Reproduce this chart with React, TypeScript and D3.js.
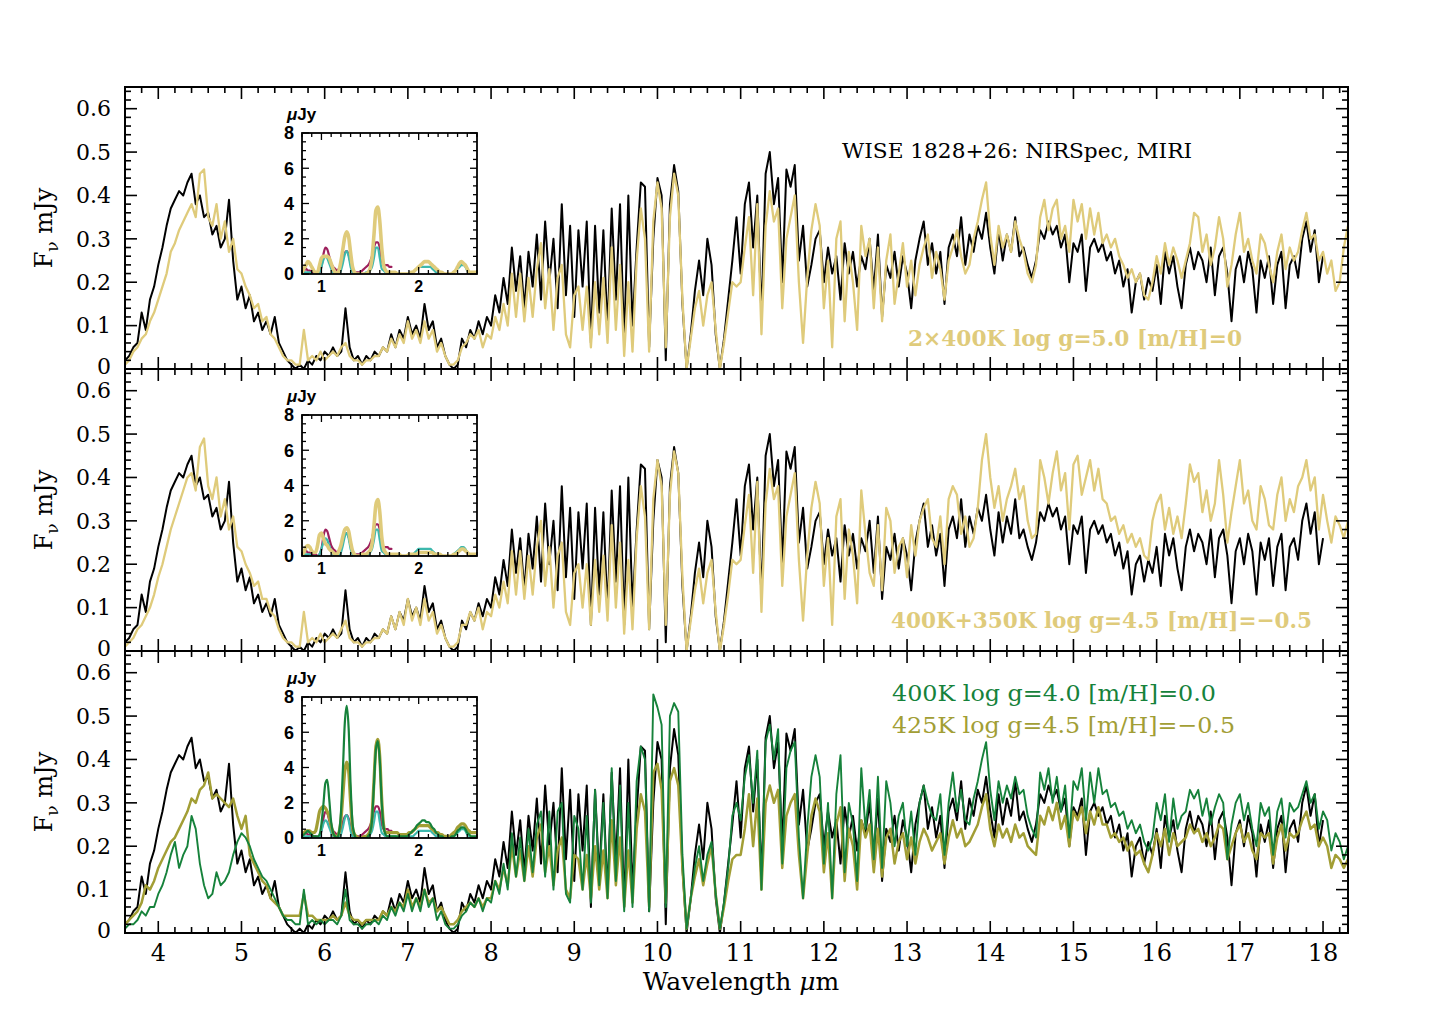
import React from "react";
import * as d3 from "d3";

// page size
const W = 1455;
const H = 1028;

// ---- main spectra: sampled every 0.05 um from 3.60 um, units of 0.01 mJy ----
const LAM0 = 3.6;
const DLAM = 0.05;

// WISE 1828+26 NIRSpec + MIRI (black)
const observed = [
  2, 3, 5, 6, 13, 9, 16, 19,
  24, 28, 33, 37, 39, 41, 40, 43, 45, 38, 40, 35, 36, 31, 33, 28, 30, 39, 25, 16,
  19, 14, 17, 11, 13, 9, 11, 8, 12, 6, 4, 2, 1, 0, 1, 0, 2, 1, 3, 2,
  4, 3, 5, 3, 4, 14, 5, 2, 3, 1, 3, 2, 4, 3, 5, 4, 8, 5, 9, 7,
  12, 8, 10, 7, 15, 9, 11, 5, 7, 3, 1, 0, 1, 7, 5, 9, 7, 11, 8, 12,
  10, 17, 13, 21, 15, 28, 18, 26, 14, 27, 19, 31, 16, 34, 20, 30, 14, 38, 17, 33,
  12, 32, 19, 34, 6, 33, 13, 32, 9, 37, 16, 38, 6, 40, 10, 28, 43, 42, 5, 30,
  44, 40, 2, 38, 47, 41, 15, 0, 8, 18, 25, 17, 30, 24, 8, 0, 7, 16, 25, 35,
  22, 38, 43, 28, 40, 12, 45, 50, 38, 44, 20, 46, 42, 47, 25, 33, 19, 24, 30, 32,
  20, 28, 22, 26, 16, 29, 22, 27, 19, 26, 23, 30, 18, 31, 12, 24, 21, 27, 19, 26,
  22, 14, 25, 30, 34, 24, 29, 22, 27, 15, 28, 31, 26, 35, 24, 31, 27, 33, 30, 36,
  28, 22, 32, 25, 31, 27, 35, 26, 28, 24, 21, 25, 32, 30, 34, 31, 33, 28, 31, 20,
  29, 27, 31, 18, 28, 30, 27, 29, 25, 27, 22, 25, 19, 23, 13, 20, 22, 16, 21, 18,
  24, 15, 27, 22, 26, 19, 14, 24, 28, 23, 27, 25, 20, 28, 17, 26, 28, 22, 11, 23,
  26, 20, 27, 23, 13, 25, 21, 26, 15, 24, 27, 14, 24, 26, 21, 30, 34, 27, 32, 20,
  26, null, null, null, null, null, null,
];

// 2x400K log g=5.0 [m/H]=0
const model400x2 = [
  1, 2, 4, 5, 7, 8, 11, 13,
  16, 19, 22, 27, 29, 32, 34, 36, 38, 35, 45, 46, 35, 33, 38, 30, 34, 27, 30, 23,
  22, 19, 17, 14, 15, 11, 12, 8, 7, 5, 3, 2, 2, 1, 1, 9, 2, 3, 2, 4,
  2, 3, 4, 3, 5, 6, 3, 2, 2, 1, 2, 2, 3, 3, 5, 4, 7, 5, 8, 6,
  11, 7, 9, 6, 11, 7, 9, 4, 6, 3, 1, 1, 2, 5, 6, 8, 7, 9, 5, 8,
  7, 12, 9, 15, 10, 22, 12, 22, 11, 21, 12, 23, 29, 14, 23, 9, 21, 24, 8, 5,
  17, 19, 9, 19, 5, 20, 8, 21, 6, 28, 9, 24, 3, 20, 4, 25, 37, 30, 4, 34,
  43, 37, 5, 35, 45, 40, 16, 0, 7, 14, 18, 10, 17, 20, 9, 0, 6, 13, 20, 19,
  20, 28, 35, 17, 38, 8, 33, 41, 34, 37, 14, 30, 35, 40, 20, 6, 21, 32, 38, 33,
  14, 25, 5, 30, 34, 11, 27, 20, 9, 33, 26, 30, 14, 28, 11, 25, 31, 15, 22, 29,
  19, 25, 17, 24, 28, 31, 21, 27, 23, 16, 25, 28, 32, 26, 22, 24, 30, 34, 39, 43,
  31, 24, 33, 28, 31, 27, 34, 30, 27, 22, 20, 24, 35, 39, 32, 37, 39, 30, 33, 27,
  39, 34, 38, 30, 37, 31, 36, 29, 31, 28, 30, 26, 24, 21, 23, 20, 22, 17, 16, 20,
  26, 22, 29, 24, 28, 25, 21, 25, 29, 36, 35, 27, 31, 24, 28, 35, 30, 19, 24, 31,
  36, 27, 30, 25, 22, 31, 29, 24, 20, 27, 31, 23, 28, 25, 27, 32, 36, 30, 31, 25,
  27, 22, 25, 18, 20, 28, 33,
];

// 400K+350K log g=4.5 [m/H]=-0.5
const model400p350 = [
  1, 2, 3, 5, 6, 8, 10, 13,
  17, 20, 24, 28, 31, 34, 37, 40, 41, 37, 47, 49, 38, 35, 40, 31, 35, 28, 31, 24,
  23, 20, 18, 15, 16, 12, 12, 9, 8, 5, 3, 2, 2, 1, 1, 9, 2, 3, 2, 4,
  2, 3, 4, 3, 5, 7, 3, 2, 2, 1, 2, 2, 3, 3, 5, 4, 8, 5, 9, 6,
  12, 7, 10, 6, 12, 7, 9, 4, 6, 3, 1, 1, 2, 6, 6, 9, 7, 10, 5, 9,
  8, 13, 10, 16, 11, 23, 13, 23, 12, 22, 13, 24, 30, 15, 24, 10, 22, 25, 9, 6,
  18, 20, 10, 20, 6, 21, 9, 22, 7, 29, 10, 25, 4, 21, 5, 26, 38, 31, 5, 35,
  44, 38, 6, 36, 46, 41, 17, 0, 7, 14, 19, 11, 18, 21, 9, 0, 6, 13, 21, 20,
  21, 29, 36, 18, 39, 9, 34, 42, 35, 38, 15, 31, 36, 41, 21, 7, 22, 33, 39, 34,
  15, 26, 6, 31, 35, 12, 28, 22, 11, 37, 27, 18, 15, 29, 14, 33, 30, 18, 24, 26,
  17, 29, 22, 30, 33, 35, 26, 24, 31, 20, 35, 38, 36, 27, 31, 24, 26, 33, 44, 50,
  40, 33, 38, 30, 35, 38, 42, 35, 38, 30, 26, 27, 44, 40, 34, 41, 46, 37, 41, 28,
  43, 45, 36, 40, 44, 37, 42, 35, 34, 30, 31, 27, 29, 25, 27, 24, 26, 22, 21, 30,
  34, 36, 28, 33, 27, 31, 26, 34, 43, 39, 41, 32, 37, 30, 34, 44, 36, 25, 32, 38,
  44, 34, 37, 30, 28, 38, 35, 29, 28, 36, 40, 30, 35, 32, 38, 40, 44, 37, 40, 28,
  36, 30, 25, 31, 29, 26, 30,
];

// 400K log g=4.0 [m/H]=0.0
const model400g40 = [
  1, 2, 2, 3, 5, 4, 6, 6,
  9, 11, 14, 18, 21, 15, 18, 20, 27, 24, 16, 11, 8, 9, 14, 11, 12, 14, 18, 21,
  23, 22, 20, 17, 15, 13, 12, 10, 8, 6, 4, 3, 3, 2, 2, 10, 2, 3, 2, 3,
  2, 3, 3, 2, 4, 10, 3, 2, 2, 1, 2, 2, 3, 2, 4, 3, 6, 4, 7, 5,
  9, 5, 8, 5, 10, 6, 8, 3, 5, 2, 1, 1, 2, 4, 5, 7, 6, 8, 5, 8,
  7, 12, 9, 16, 10, 23, 13, 22, 12, 24, 14, 25, 28, 13, 28, 10, 28, 30, 9, 7,
  27, 24, 10, 27, 7, 33, 11, 30, 8, 38, 12, 34, 5, 30, 6, 35, 43, 40, 5, 55,
  52, 48, 6, 50, 53, 51, 18, 1, 8, 15, 20, 12, 18, 21, 9, 1, 7, 15, 27, 30,
  26, 36, 41, 30, 42, 10, 44, 48, 40, 47, 16, 38, 42, 44, 22, 8, 24, 36, 41, 36,
  16, 30, 8, 32, 41, 14, 30, 25, 12, 38, 24, 33, 17, 36, 15, 35, 30, 20, 27, 30,
  20, 28, 18, 30, 34, 30, 27, 26, 32, 18, 30, 37, 28, 33, 26, 25, 31, 35, 40, 44,
  33, 26, 35, 30, 34, 31, 36, 32, 33, 27, 24, 22, 37, 33, 38, 30, 36, 28, 34, 22,
  35, 33, 38, 26, 37, 30, 38, 32, 33, 29, 30, 27, 28, 24, 26, 23, 25, 21, 19, 22,
  30, 26, 32, 21, 31, 24, 27, 28, 33, 31, 33, 27, 31, 25, 29, 32, 30, 17, 25, 30,
  32, 26, 30, 24, 20, 30, 27, 29, 18, 28, 31, 22, 30, 28, 29, 32, 35, 30, 32, 24,
  28, 26, 19, 23, 21, 17, 20,
];

// 425K log g=4.5 [m/H]=-0.5
const model425g45 = [
  2, 3, 4, 5, 7, 11, 10, 12,
  15, 17, 19, 21, 22, 24, 26, 28, 31, 30, 33, 34, 37, 31, 32, 31, 30, 29, 31, 27,
  24, 27, 18, 16, 14, 12, 11, 8, 7, 6, 4, 4, 4, 4, 4, 9, 4, 4, 3, 3,
  3, 3, 4, 3, 4, 7, 4, 3, 3, 2, 3, 3, 3, 3, 5, 4, 6, 5, 7, 6,
  10, 6, 8, 6, 10, 7, 8, 5, 6, 4, 2, 2, 3, 5, 6, 7, 6, 8, 6, 8,
  8, 12, 10, 15, 11, 20, 13, 19, 12, 20, 13, 22, 25, 14, 20, 11, 19, 22, 10, 8,
  18, 17, 10, 18, 8, 20, 10, 19, 8, 26, 11, 22, 6, 19, 7, 24, 32, 28, 6, 37,
  39, 33, 7, 35, 38, 34, 15, 1, 8, 13, 17, 11, 16, 20, 9, 1, 6, 12, 17, 18,
  18, 24, 32, 20, 31, 10, 30, 34, 30, 33, 15, 27, 30, 32, 18, 8, 18, 27, 31, 28,
  14, 23, 8, 25, 29, 12, 24, 20, 10, 26, 22, 25, 14, 24, 13, 22, 24, 16, 21, 23,
  17, 22, 16, 21, 24, 22, 19, 21, 23, 16, 22, 26, 22, 24, 20, 21, 23, 25, 29, 32,
  24, 20, 25, 22, 24, 21, 25, 22, 23, 20, 19, 18, 27, 25, 29, 26, 30, 24, 27, 20,
  28, 26, 29, 23, 28, 25, 29, 25, 25, 22, 23, 21, 22, 19, 21, 18, 19, 16, 14, 18,
  23, 20, 24, 18, 23, 20, 21, 22, 25, 23, 24, 21, 23, 20, 22, 25, 24, 17, 20, 23,
  25, 21, 23, 19, 17, 23, 22, 23, 16, 22, 25, 19, 23, 22, 23, 26, 28, 24, 25, 20,
  22, 20, 15, 18, 17, 15, 17,
];

// ---- inset spectra: sampled every 0.02 um from 0.80 um, units of 0.1 uJy ----
const ILAM0 = 0.8;
const DILAM = 0.02;

const insetObsA = [
  2, 2, 3, 2, 2, 1, 1, 1, 0, 1,
  4, 11, 15, 14, 10, 6, 4, 3, 2, 3,
  5, 9, 12, 13, 11, 6, 2, 1, 1, 1,
  1, 2, 3, 4, 5, 7, 10, 15, 18, 18,
  15, 8, 5, 5, 5, 4, 4, null, null, null,
  null, null, null, null, null, null, null, null, null, null,
  null, null, null, null, null, null, null, null, null, null,
  null, null, null, null, null, null, null, null, null, null,
  null, null, null, null, null, null, null, null, null, null,
  null,
];

const insetObsB = [
  0, 1, 1, 1, 1, 0, 0, 0, 0, 1,
  4, 8, 10, 9, 6, 3, 1, 0, 0, 0,
  2, 6, 11, 13, 10, 4, 1, 0, 0, 0,
  0, 0, 0, 1, 1, 2, 4, 9, 15, 15,
  9, 3, 2, 1, 1, 1, 1, 1, 1, 0,
  0, 0, 0, 0, 0, 0, 1, 1, 2, 3,
  4, 4, 4, 4, 4, 4, 4, 3, 2, 1,
  1, 0, 0, 0, 0, 0, 0, 0, 1, 2,
  3, 4, 5, 5, 4, 2, 1, 0, 0, 0,
  0,
];

const inset400x2 = [
  1, 3, 5, 7, 6, 4, 2, 1, 1, 5,
  9, 10, 10, 10, 9, 6, 3, 1, 0, 2,
  7, 14, 21, 24, 21, 12, 4, 1, 0, 0,
  0, 0, 0, 0, 1, 3, 9, 22, 36, 38,
  30, 15, 5, 2, 1, 1, 1, 1, 1, 0,
  0, 0, 0, 0, 0, 0, 1, 1, 2, 3,
  4, 5, 6, 7, 7, 7, 6, 5, 4, 3,
  2, 1, 1, 0, 0, 0, 0, 0, 1, 2,
  4, 6, 7, 6, 5, 3, 1, 1, 1, 1,
  1,
];

const inset400p350 = [
  1, 2, 5, 6, 5, 3, 2, 2, 6, 12,
  13, 10, 7, 6, 4, 3, 2, 1, 1, 3,
  6, 11, 15, 16, 14, 8, 3, 1, 0, 0,
  0, 1, 1, 1, 2, 3, 7, 17, 29, 32,
  25, 11, 4, 2, 1, 1, 1, 1, 1, 1,
  1, 0, 0, 0, 0, 1, 1, 1, 1, 1,
  2, 2, 2, 2, 2, 2, 2, 2, 1, 1,
  1, 1, 0, 0, 0, 0, 0, 0, 1, 1,
  2, 3, 4, 4, 3, 2, 1, 1, 1, 1,
  1,
];

const inset400g40 = [
  1, 2, 3, 4, 3, 2, 1, 1, 1, 2,
  8, 19, 31, 33, 22, 9, 3, 1, 0, 3,
  14, 38, 65, 75, 62, 30, 8, 2, 0, 0,
  0, 0, 0, 0, 1, 3, 10, 30, 50, 55,
  44, 20, 6, 2, 1, 1, 1, 1, 1, 1,
  1, 1, 1, 1, 1, 2, 3, 4, 5, 7,
  8, 9, 10, 10, 9, 9, 8, 6, 5, 3,
  2, 1, 1, 0, 0, 0, 0, 1, 1, 2,
  4, 5, 6, 6, 5, 3, 2, 1, 1, 1,
  1,
];

const inset425g45 = [
  2, 3, 4, 4, 4, 3, 3, 4, 9, 15,
  17, 18, 17, 15, 12, 7, 3, 1, 1, 3,
  10, 24, 38, 43, 38, 20, 6, 2, 1, 0,
  0, 0, 1, 1, 2, 4, 12, 32, 52, 56,
  46, 22, 7, 3, 3, 3, 3, 3, 3, 3,
  2, 2, 2, 2, 2, 3, 3, 4, 5, 6,
  7, 7, 7, 7, 7, 7, 6, 5, 4, 3,
  3, 2, 2, 1, 1, 1, 1, 2, 3, 4,
  6, 7, 8, 8, 7, 5, 4, 3, 3, 3,
  3,
];

// ---- ticks and labels ----
const xTickValues = [4, 5, 6, 7, 8, 9, 10, 11, 12, 13, 14, 15, 16, 17, 18];
const yTickValues = [0, 0.1, 0.2, 0.3, 0.4, 0.5, 0.6];
const yTickLabels = ["0", "0.1", "0.2", "0.3", "0.4", "0.5", "0.6"];
const insetXTickValues = [1, 2];
const insetYTickValues = [0, 2, 4, 6, 8];

// ---- styling ----
const SERIF = "'DejaVu Serif', 'Liberation Serif', serif";
const SANS = "'Liberation Sans', Arial, sans-serif";
const TAN = "#dfcb7b";
const PURPLE = "#9d1f5c";
const CYAN = "#3db8ad";
const GREEN = "#16823b";
const OLIVE = "#a29e35";

const LEFT = 125;
const RIGHT = 1348;
const PANEL_H = 282;

const x = d3.scaleLinear().domain([3.6, 18.3]).range([LEFT, RIGHT]);
const xi = d3.scaleLinear().domain([0.8, 2.6]).range([302, 477]);

type Curve = { data: (number | null)[]; color: string; width: number };
type Label = { text: string; x: number; y: number; color: string; len: number; bold?: boolean; size?: number };

const panels: { top: number; models: Curve[]; inset: Curve[]; labels: Label[] }[] = [
  {
    top: 87,
    models: [{ data: model400x2, color: TAN, width: 2.3 }],
    inset: [{ data: inset400x2, color: TAN, width: 3.6 }],
    labels: [
      { text: "WISE 1828+26: NIRSpec, MIRI", x: 842, y: 158, color: "#000", len: 350, size: 21 },
      { text: "2×400K log g=5.0 [m/H]=0", x: 908, y: 346, color: TAN, len: 334, bold: true },
    ],
  },
  {
    top: 369,
    models: [{ data: model400p350, color: TAN, width: 2.3 }],
    inset: [{ data: inset400p350, color: TAN, width: 3.6 }],
    labels: [
      { text: "400K+350K log g=4.5 [m/H]=\u22120.5", x: 891, y: 628, color: TAN, len: 421, bold: true },
    ],
  },
  {
    top: 651,
    models: [
      { data: model425g45, color: OLIVE, width: 2.5 },
      { data: model400g40, color: GREEN, width: 1.9 },
    ],
    inset: [
      { data: inset425g45, color: OLIVE, width: 3.2 },
      { data: inset400g40, color: GREEN, width: 2.2 },
    ],
    labels: [
      { text: "400K log g=4.0 [m/H]=0.0", x: 892, y: 701, color: GREEN, len: 324 },
      { text: "425K log g=4.5 [m/H]=\u22120.5", x: 892, y: 733, color: OLIVE, len: 343 },
    ],
  },
];

const minorX = d3.range(18, 92).map((k) => ({ v: k / 5, major: k % 5 === 0 }));
const minorY = d3.range(0, 33).map((k) => ({ v: k * 0.02, major: k % 5 === 0 }));
const minorXi = d3.range(8, 27).map((k) => ({ v: k / 10, major: k % 10 === 0 }));
const minorYi = d3.range(0, 17).map((k) => ({ v: k * 0.5, major: k % 4 === 0 }));

function Panel({ top, models, inset, labels, index }: any) {
  const bottom = top + PANEL_H;
  const y = d3.scaleLinear().domain([0, 0.65]).range([bottom, top]);
  const iTop = top + 46;
  const iBottom = top + 187;
  const yi = d3.scaleLinear().domain([0, 8]).range([iBottom, iTop]);

  const mainLine = d3
    .line<number | null>()
    .defined((d) => d != null)
    .x((_, i) => x(LAM0 + i * DLAM))
    .y((d) => y((d as number) / 100));

  const insetLine = d3
    .line<number | null>()
    .defined((d) => d != null)
    .x((_, i) => xi(ILAM0 + i * DILAM))
    .y((d) => yi((d as number) / 10))
    .curve(d3.curveMonotoneX);

  const insetCurves: Curve[] = [
    { data: insetObsA, color: PURPLE, width: 2.2 },
    { data: insetObsB, color: CYAN, width: 2.2 },
    ...inset,
  ];

  const clipId = `clip-main-${index}`;
  const iclipId = `clip-inset-${index}`;

  return (
    <g>
      <defs>
        <clipPath id={clipId}>
          <rect x={LEFT} y={top} width={RIGHT - LEFT} height={PANEL_H} />
        </clipPath>
        <clipPath id={iclipId}>
          <rect x={302} y={iTop} width={175} height={iBottom - iTop} />
        </clipPath>
      </defs>

      {/* spectra */}
      <g clipPath={`url(#${clipId})`} fill="none" strokeLinejoin="round">
        <path d={mainLine(observed) || ""} stroke="#000" strokeWidth={2} />
        {models.map((m: Curve, k: number) => (
          <path key={k} d={mainLine(m.data) || ""} stroke={m.color} strokeWidth={m.width} />
        ))}
      </g>

      {/* main ticks */}
      {minorX.map((t, k) => {
        const len = t.major ? 12 : 6;
        return (
          <g key={`x${k}`} stroke="#000" strokeWidth={1.6}>
            <line x1={x(t.v)} x2={x(t.v)} y1={bottom} y2={bottom - len} />
            <line x1={x(t.v)} x2={x(t.v)} y1={top} y2={top + len} />
          </g>
        );
      })}
      {minorY.map((t, k) => {
        const len = t.major ? 12 : 6;
        return (
          <g key={`y${k}`} stroke="#000" strokeWidth={1.6}>
            <line x1={LEFT} x2={LEFT + len} y1={y(t.v)} y2={y(t.v)} />
            <line x1={RIGHT} x2={RIGHT - len} y1={y(t.v)} y2={y(t.v)} />
          </g>
        );
      })}
      <rect x={LEFT} y={top} width={RIGHT - LEFT} height={PANEL_H} fill="none" stroke="#000" strokeWidth={2} />

      {yTickValues.map((v, k) => (
        <text key={`yl${k}`} x={111} y={y(v) - (v === 0 ? 3 : 0)} dy="0.35em" textAnchor="end" fontSize={22}>
          {yTickLabels[k]}
        </text>
      ))}

      <text transform={`translate(52, ${top + PANEL_H / 2}) rotate(-90)`} textAnchor="middle" fontSize={24}>
        F<tspan fontSize={17} dy={6}>ν</tspan>
        <tspan dy={-6}> mJy</tspan>
      </text>

      {/* labels */}
      {labels.map((l: Label, k: number) => (
        <text
          key={`lab${k}`}
          x={l.x}
          y={l.y}
          fill={l.color}
          fontSize={l.size || 23}
          fontWeight={l.bold ? "bold" : "normal"}
          textLength={l.len}
          lengthAdjust="spacingAndGlyphs"
        >
          {l.text}
        </text>
      ))}

      {/* inset */}
      <rect x={302} y={iTop} width={175} height={iBottom - iTop} fill="#fff" />
      <g clipPath={`url(#${iclipId})`} fill="none" strokeLinejoin="round" strokeLinecap="round">
        {insetCurves.map((c, k) => (
          <path key={k} d={insetLine(c.data) || ""} stroke={c.color} strokeWidth={c.width} />
        ))}
      </g>
      {minorXi.map((t, k) => {
        const len = t.major ? 7 : 4;
        return (
          <g key={`xi${k}`} stroke="#000" strokeWidth={1.3}>
            <line x1={xi(t.v)} x2={xi(t.v)} y1={iBottom} y2={iBottom - len} />
            <line x1={xi(t.v)} x2={xi(t.v)} y1={iTop} y2={iTop + len} />
          </g>
        );
      })}
      {minorYi.map((t, k) => {
        const len = t.major ? 7 : 4;
        return (
          <g key={`yi${k}`} stroke="#000" strokeWidth={1.3}>
            <line x1={302} x2={302 + len} y1={yi(t.v)} y2={yi(t.v)} />
            <line x1={477} x2={477 - len} y1={yi(t.v)} y2={yi(t.v)} />
          </g>
        );
      })}
      <rect x={302} y={iTop} width={175} height={iBottom - iTop} fill="none" stroke="#000" strokeWidth={1.8} />
      {insetYTickValues.map((v) => (
        <text key={`iyl${v}`} x={294} y={yi(v)} dy="0.36em" textAnchor="end" fontSize={18} fontWeight="bold" fontFamily={SANS}>
          {v}
        </text>
      ))}
      {insetXTickValues.map((v) => (
        <text key={`ixl${v}`} x={xi(v)} y={iBottom + 18} textAnchor="middle" fontSize={16} fontWeight="bold" fontFamily={SANS}>
          {v}
        </text>
      ))}
      <text x={287} y={iTop - 13} fontSize={17} fontWeight="bold" fontFamily={SANS}>
        <tspan fontStyle="italic">μ</tspan>Jy
      </text>
    </g>
  );
}

export default function App() {
  return (
    <svg
      width={W}
      height={H}
      style={{ position: "absolute", left: 0, top: 0 }}
      fontFamily={SERIF}
    >
      <rect width={W} height={H} fill="#fff" />
      {panels.map((p, i) => (
        <Panel key={i} index={i} {...p} />
      ))}
      {xTickValues.map((t) => (
        <text key={t} x={x(t)} y={961} textAnchor="middle" fontSize={24}>
          {t}
        </text>
      ))}
      <text x={741} y={990} textAnchor="middle" fontSize={25}>
        Wavelength <tspan fontStyle="italic">μ</tspan>m
      </text>
    </svg>
  );
}
